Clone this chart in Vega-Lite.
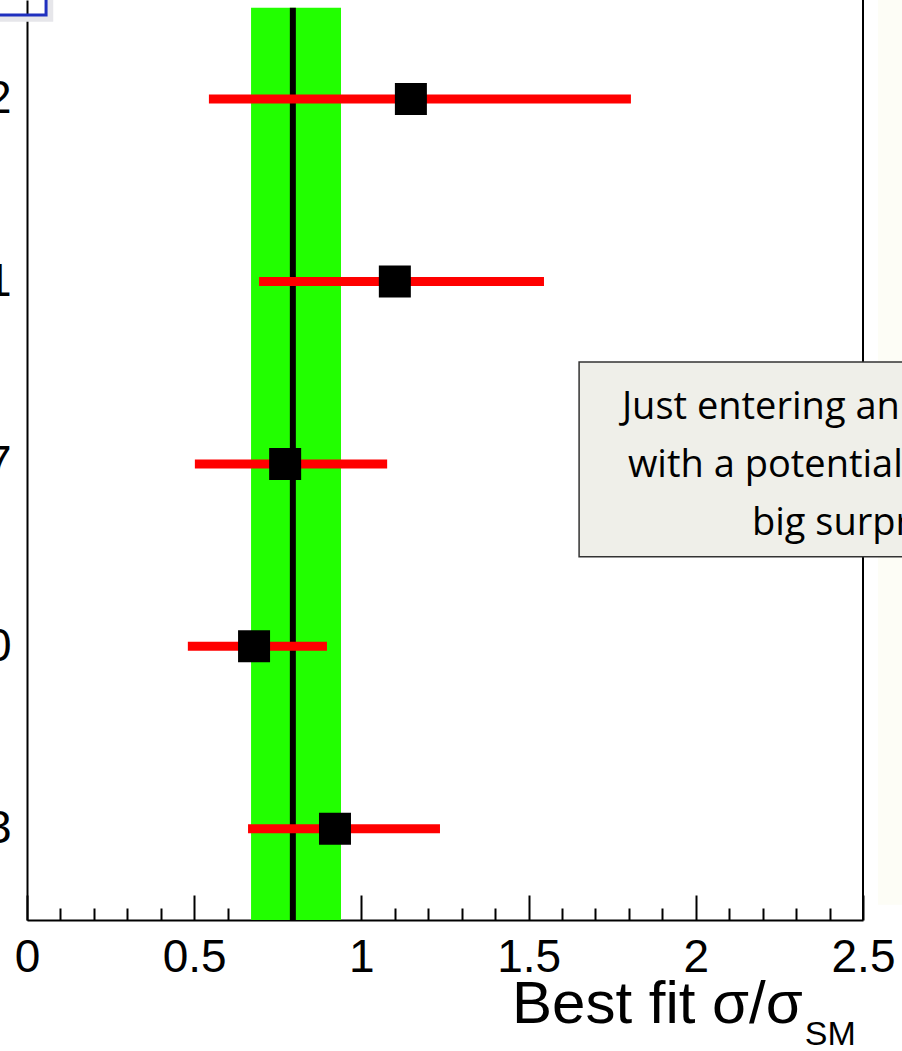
{
  "$schema": "https://vega.github.io/schema/vega-lite/v6.json",
  "width": 836,
  "height": 920,
  "autosize": {"type": "none"},
  "padding": {"left": 27, "top": 0, "right": 39, "bottom": 131},
  "background": "#ffffff",
  "config": {"view": {"stroke": null}, "font": "Liberation Sans"},
  "datasets": {
    "fits": [
      {"row": 1, "label": "2", "val": 1.148, "lo": 0.544, "hi": 1.806},
      {"row": 2, "label": "1", "val": 1.100, "lo": 0.694, "hi": 1.546},
      {"row": 3, "label": "7", "val": 0.772, "lo": 0.502, "hi": 1.077},
      {"row": 4, "label": "0", "val": 0.679, "lo": 0.481, "hi": 0.897},
      {"row": 5, "label": "3", "val": 0.921, "lo": 0.661, "hi": 1.235}
    ],
    "combined": [{"mu": 0.795, "lo": 0.670, "hi": 0.939}],
    "note": [
      {"line": "Just entering an", "x": 1.779, "row": 2.693},
      {"line": "with a potential", "x": 1.797, "row": 3.011},
      {"line": "big surprise", "x": 2.168, "row": 3.329}
    ],
    "one": [{}]
  },
  "resolve": {"axis": {"x": "independent"}},
  "layer": [
    {
      "data": {"name": "one"},
      "mark": {"type": "rect", "fill": "#fdfdf6", "clip": false},
      "encoding": {
        "x": {"datum": 2.545, "type": "quantitative", "scale": {"domain": [0, 2.5], "nice": false, "zero": false}, "axis": null},
        "x2": {"datum": 3.2},
        "y": {"datum": 0.3, "type": "quantitative", "scale": {"domain": [0.4575, 5.5], "nice": false, "zero": false, "reverse": true}},
        "y2": {"datum": 5.416}
      }
    },
    {
      "data": {"name": "combined"},
      "mark": {"type": "rect", "fill": "#22ff00"},
      "encoding": {
        "x": {
          "field": "lo", "type": "quantitative",
          "scale": {"domain": [0, 2.5], "nice": false, "zero": false},
          "axis": {
            "orient": "bottom",
            "values": [0, 0.5, 1, 1.5, 2, 2.5],
            "format": "~g",
            "tickSize": -25, "tickWidth": 2, "tickColor": "#000000",
            "domainColor": "#000000", "domainWidth": 2,
            "labelFontSize": 46, "labelColor": "#000000", "labelPadding": 40,
            "labelFlush": false, "labelOverlap": false,
            "grid": false, "title": null
          }
        },
        "x2": {"field": "hi"},
        "y": {"datum": 0.5, "type": "quantitative", "scale": {"domain": [0.4575, 5.5], "nice": false, "zero": false, "reverse": true}},
        "y2": {"datum": 5.5}
      }
    },
    {
      "data": {"name": "combined"},
      "mark": {"type": "rule", "color": "#000000", "strokeWidth": 6},
      "encoding": {
        "x": {
          "field": "mu", "type": "quantitative",
          "scale": {"domain": [0, 2.5], "nice": false, "zero": false},
          "axis": {
            "orient": "bottom",
            "values": [0.1, 0.2, 0.3, 0.4, 0.6, 0.7, 0.8, 0.9, 1.1, 1.2, 1.3, 1.4, 1.6, 1.7, 1.8, 1.9, 2.1, 2.2, 2.3, 2.4],
            "tickSize": -12, "tickWidth": 2, "tickColor": "#000000",
            "domain": false, "labels": false, "grid": false, "title": null
          }
        },
        "y": {"datum": 0.5, "type": "quantitative", "scale": {"domain": [0.4575, 5.5], "nice": false, "zero": false, "reverse": true}},
        "y2": {"datum": 5.5}
      }
    },
    {
      "data": {"name": "fits"},
      "mark": {"type": "rule", "color": "#ff0000", "strokeWidth": 9},
      "encoding": {
        "x": {"field": "lo", "type": "quantitative", "scale": {"domain": [0, 2.5], "nice": false, "zero": false}, "axis": null},
        "x2": {"field": "hi"},
        "y": {"field": "row", "type": "quantitative", "scale": {"domain": [0.4575, 5.5], "nice": false, "zero": false, "reverse": true}}
      }
    },
    {
      "data": {"name": "fits"},
      "mark": {"type": "point", "shape": "square", "filled": true, "color": "#000000", "opacity": 1, "size": 1024},
      "encoding": {
        "x": {"field": "val", "type": "quantitative", "scale": {"domain": [0, 2.5], "nice": false, "zero": false}, "axis": null},
        "y": {
          "field": "row", "type": "quantitative",
          "scale": {"domain": [0.4575, 5.5], "nice": false, "zero": false, "reverse": true},
          "axis": {
            "values": [1, 2, 3, 4, 5],
            "labelExpr": "['', '2', '1', '7', '0', '3'][datum.value]",
            "ticks": false, "grid": false, "title": null,
            "domainColor": "#000000", "domainWidth": 2,
            "labelFontSize": 46, "labelColor": "#000000", "labelPadding": 16,
            "labelBaseline": "middle"
          }
        }
      }
    },
    {
      "data": {"name": "one"},
      "mark": {"type": "rule", "color": "#000000", "strokeWidth": 2, "clip": false},
      "encoding": {
        "x": {"datum": 2.5, "type": "quantitative", "scale": {"domain": [0, 2.5], "nice": false, "zero": false}, "axis": null},
        "y": {"datum": 0.4575, "type": "quantitative", "scale": {"domain": [0.4575, 5.5], "nice": false, "zero": false, "reverse": true}},
        "y2": {"datum": 5.5}
      }
    },
    {
      "data": {"name": "one"},
      "mark": {"type": "rect", "fill": null, "stroke": "#e6e6ea", "strokeWidth": 7, "clip": false},
      "encoding": {
        "x": {"datum": -0.2, "type": "quantitative", "scale": {"domain": [0, 2.5], "nice": false, "zero": false}, "axis": null},
        "x2": {"datum": 0.068},
        "y": {"datum": 0.3, "type": "quantitative", "scale": {"domain": [0.4575, 5.5], "nice": false, "zero": false, "reverse": true}},
        "y2": {"datum": 0.557}
      }
    },
    {
      "data": {"name": "one"},
      "mark": {"type": "rect", "fill": null, "stroke": "#1f30bf", "strokeWidth": 3, "clip": false},
      "encoding": {
        "x": {"datum": -0.2, "type": "quantitative", "scale": {"domain": [0, 2.5], "nice": false, "zero": false}, "axis": null},
        "x2": {"datum": 0.057},
        "y": {"datum": 0.3, "type": "quantitative", "scale": {"domain": [0.4575, 5.5], "nice": false, "zero": false, "reverse": true}},
        "y2": {"datum": 0.5397}
      }
    },
    {
      "data": {"name": "one"},
      "mark": {"type": "rect", "fill": "#efefe9", "stroke": "#333333", "strokeWidth": 1.5, "clip": false},
      "encoding": {
        "x": {"datum": 1.651, "type": "quantitative", "scale": {"domain": [0, 2.5], "nice": false, "zero": false}, "axis": null},
        "x2": {"datum": 3.2},
        "y": {"datum": 2.441, "type": "quantitative", "scale": {"domain": [0.4575, 5.5], "nice": false, "zero": false, "reverse": true}},
        "y2": {"datum": 3.5096}
      }
    },
    {
      "data": {"name": "note"},
      "mark": {"type": "text", "align": "left", "baseline": "middle", "font": "Open Sans", "fontSize": 38, "color": "#000000", "clip": false},
      "encoding": {
        "x": {"field": "x", "type": "quantitative", "scale": {"domain": [0, 2.5], "nice": false, "zero": false}, "axis": null},
        "y": {"field": "row", "type": "quantitative", "scale": {"domain": [0.4575, 5.5], "nice": false, "zero": false, "reverse": true}},
        "text": {"field": "line"}
      }
    },
    {
      "data": {"name": "one"},
      "mark": {"type": "text", "text": "Best fit σ/σ", "align": "right", "baseline": "alphabetic", "fontSize": 60, "color": "#000000", "clip": false},
      "encoding": {
        "x": {"datum": 2.32, "type": "quantitative", "scale": {"domain": [0, 2.5], "nice": false, "zero": false}, "axis": null},
        "y": {"datum": 6.063, "type": "quantitative", "scale": {"domain": [0.4575, 5.5], "nice": false, "zero": false, "reverse": true}}
      }
    },
    {
      "data": {"name": "one"},
      "mark": {"type": "text", "text": "SM", "align": "left", "baseline": "alphabetic", "fontSize": 34, "color": "#000000", "clip": false},
      "encoding": {
        "x": {"datum": 2.326, "type": "quantitative", "scale": {"domain": [0, 2.5], "nice": false, "zero": false}, "axis": null},
        "y": {"datum": 6.183, "type": "quantitative", "scale": {"domain": [0.4575, 5.5], "nice": false, "zero": false, "reverse": true}}
      }
    }
  ]
}
